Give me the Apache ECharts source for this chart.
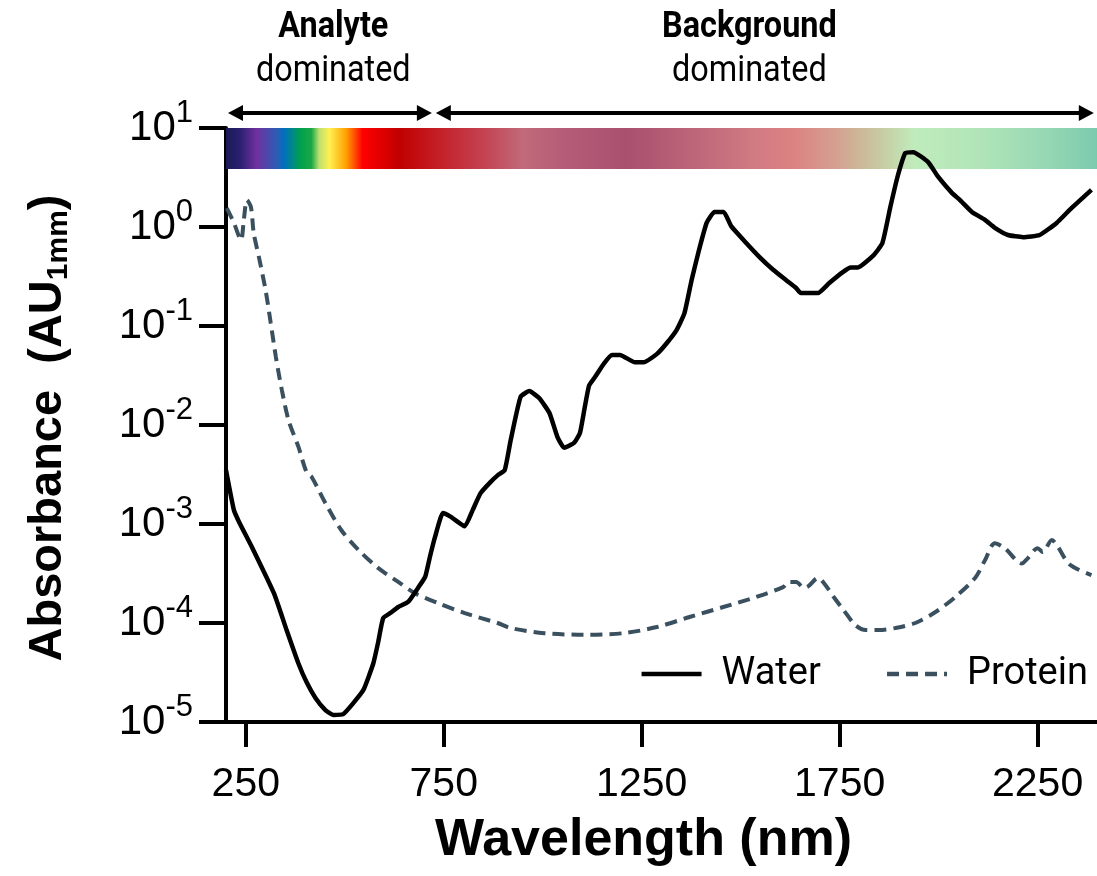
<!DOCTYPE html>
<html><head><meta charset="utf-8">
<script src="https://cdn.jsdelivr.net/npm/echarts@6/dist/echarts.min.js"></script>
<style>html,body{margin:0;padding:0;background:#fff}#c{width:1097px;height:876px}</style>
</head><body><div id="c"></div>
<script>
// ---- data ----
const waterWavelength = [200,220,233,265,321,353,383,404,426,451,471,496,522,547,572,584,597,615,635,660,685,703,715,728,748,768,803,823,843,868,886,904,919,944,966,991,1017,1037,1054,1079,1094,1105,1117,1132,1155,1175,1195,1233,1255,1288,1313,1338,1358,1376,1393,1414,1434,1457,1476,1514,1547,1582,1615,1640,1652,1695,1723,1758,1778,1796,1836,1858,1878,1896,1916,1936,1974,1999,2034,2054,2084,2117,2142,2175,2213,2255,2298,2331,2386];
const waterAbsorbance = [3.5e-3,1.38e-3,1.05e-3,5.9e-4,2.0e-4,8.5e-5,3.9e-5,2.5e-5,1.75e-5,1.32e-5,1.18e-5,1.2e-5,1.56e-5,2.1e-5,3.9e-5,6.3e-5,1.12e-4,1.26e-4,1.45e-4,1.63e-4,2.26e-4,2.92e-4,4.65e-4,7.4e-4,1.29e-3,1.18e-3,9.5e-4,1.38e-3,2.05e-3,2.65e-3,3.1e-3,3.5e-3,7.0e-3,1.92e-2,2.2e-2,1.87e-2,1.32e-2,7.6e-3,5.9e-3,6.6e-3,8.3e-3,1.42e-2,2.5e-2,3.05e-2,4.2e-2,5.1e-2,5.1e-2,4.3e-2,4.3e-2,5.2e-2,6.7e-2,9.1e-2,0.135,0.29,0.55,1.1,1.42,1.42,1.02,0.69,0.50,0.37,0.29,0.242,0.215,0.215,0.27,0.35,0.39,0.39,0.52,0.69,1.59,3.2,5.6,5.7,4.5,3.2,2.2,1.87,1.42,1.18,0.98,0.83,0.79,0.83,1.1,1.49,2.37];
const proteinWavelength = [202,220,238,245,253,263,270,283,300,313,326,341,358,383,404,416,451,491,534,584,635,677,735,803,886,919,1004,1105,1205,1288,1371,1456,1539,1607,1622,1640,1660,1672,1695,1710,1735,1760,1790,1816,1849,1891,1941,1992,2042,2092,2117,2142,2167,2210,2225,2250,2263,2286,2301,2331,2386];
const proteinAbsorbance = [1.55,1.1,0.74,1.18,1.87,1.59,0.87,0.50,0.23,0.107,0.0486,0.0226,0.0112,6.0e-3,3.3e-3,3.0e-3,1.63e-3,8.7e-4,5.5e-4,3.6e-4,2.6e-4,2.0e-4,1.59e-4,1.26e-4,1.0e-4,8.9e-5,7.9e-5,7.6e-5,7.9e-5,9.1e-5,1.15e-4,1.45e-4,1.83e-4,2.3e-4,2.6e-4,2.6e-4,2.26e-4,2.37e-4,2.85e-4,2.54e-4,1.83e-4,1.35e-4,9.5e-5,8.5e-5,8.5e-5,8.9e-5,1.0e-4,1.29e-4,1.83e-4,2.85e-4,4.3e-4,6.4e-4,5.7e-4,4.0e-4,4.5e-4,5.7e-4,5.2e-4,6.9e-4,5.9e-4,3.9e-4,3.05e-4];
const seriesNames = ['Water', 'Protein'];
const xTickValues = [250, 750, 1250, 1750, 2250];
const xRange = [200, 2400];
const yRange = [1e-5, 10];
const spectrumBand = [[200, 3.86], [2400, 10]];   // wavelength / absorbance corners of the colour band
const regionTitles = ['Analyte', 'Background'];
const regionSubtitles = ['dominated', 'dominated'];
const regionRanges = [[205, 720], [730, 2392]];
const regionLabelCenters = [471, 1522];

// ---- styles ----
const spectrumStops = [
  [0, '#1b1b58'], [0.016, '#2a2070'], [0.035, '#7030a0'], [0.058, '#2e5cb4'], [0.067, '#0070c0'],
  [0.085, '#00a050'], [0.098, '#1aa846'], [0.107, '#c0e070'], [0.119, '#fff050'], [0.138, '#ffa000'],
  [0.157, '#ff0000'], [0.199, '#c00000'], [0.245, '#c42028'], [0.293, '#c44050'], [0.341, '#c06a7a'],
  [0.389, '#b45c78'], [0.460, '#a8506e'], [0.532, '#bc6478'], [0.604, '#d07a82'], [0.652, '#dc8282'],
  [0.700, '#d4a090'], [0.748, '#c8c8a0'], [0.791, '#c0ecbc'], [0.868, '#b0e4b8'], [0.939, '#98d8b4'],
  [1, '#7ccaae']
];
const PROTEIN_COLOR = '#3a505e';
const AX = 'Liberation Sans, Arial, sans-serif';

const chart = echarts.init(document.getElementById('c'), null, {renderer: 'canvas'});

const zip = (xs, ys) => xs.map((x, i) => [x, ys[i]]);

chart.setOption({
  animation: false,
  backgroundColor: '#fff',
  grid: {left: 226, top: 128, bottom: 154, right: -4, containLabel: false},
  legend: {
    data: seriesNames,
    right: 4, top: 650, orient: 'horizontal',
    itemWidth: 60, itemHeight: 6, itemGap: 64,
    itemStyle: {opacity: 0},
    lineStyle: {width: 4.5},
    textStyle: {fontFamily: 'Roboto', fontSize: 38, color: '#000', padding: [0, 0, 0, 15]}
  },
  xAxis: {
    type: 'value', min: xRange[0], max: xRange[1],
    name: 'Wavelength (nm)', nameLocation: 'middle', nameGap: 93,
    nameTextStyle: {fontFamily: AX, fontWeight: 'bold', fontSize: 52, color: '#000', padding: [0, 36, 0, 0]},
    axisLine: {lineStyle: {color: '#000', width: 4}},
    axisTick: {length: 25, lineStyle: {color: '#000', width: 4}, customValues: xTickValues},
    axisLabel: {customValues: xTickValues, fontFamily: AX, fontSize: 41, color: '#000', margin: 42,
      formatter: v => String(v)},
    splitLine: {show: false}
  },
  yAxis: {
    type: 'log', logBase: 10, min: yRange[0], max: yRange[1],
    name: '{b|Absorbance  (AU}{s|1mm}{b|)}', nameLocation: 'middle', nameGap: 152, nameRotate: 90,
    nameTextStyle: {
      padding: [0, 6, 0, 0],
      rich: {
        b: {fontFamily: AX, fontWeight: 'bold', fontSize: 47, color: '#000'},
        s: {fontFamily: AX, fontWeight: 'bold', fontSize: 30, color: '#000', padding: [22, 0, 0, 0]}
      }
    },
    axisLine: {lineStyle: {color: '#000', width: 4}},
    axisTick: {length: 27, lineStyle: {color: '#000', width: 4}},
    axisLabel: {
      margin: 33, showMinLabel: true, showMaxLabel: true,
      formatter: v => '{b|10}{s|' + Math.round(Math.log10(v)) + '}',
      rich: {
        b: {fontFamily: AX, fontSize: 42, color: '#000'},
        s: {fontFamily: AX, fontSize: 31, color: '#000', padding: [0, 0, 30, 0]}
      }
    },
    splitLine: {show: false}, minorTick: {show: false}
  },
  series: [
    {
      name: 'spectrum', type: 'line', data: [], z: 1, silent: true,
      markArea: {
        silent: true,
        itemStyle: {
          color: {type: 'linear', x: 0, y: 0, x2: 1, y2: 0,
            colorStops: spectrumStops.map(s => ({offset: s[0], color: s[1]}))}
        },
        data: [[{coord: spectrumBand[0]}, {coord: spectrumBand[1]}]]
      }
    },
    {
      name: seriesNames[0], type: 'line', z: 5, symbol: 'none', smooth: 0.15,
      lineStyle: {color: '#000', width: 4.5}, itemStyle: {color: '#000'},
      data: zip(waterWavelength, waterAbsorbance)
    },
    {
      name: seriesNames[1], type: 'line', z: 4, symbol: 'none', smooth: 0.3,
      lineStyle: {color: PROTEIN_COLOR, width: 4, type: [12, 7]}, itemStyle: {color: PROTEIN_COLOR},
      data: zip(proteinWavelength, proteinAbsorbance)
    }
  ]
});

// ---- region annotations above the plot ----
function px(w) { return chart.convertToPixel({xAxisIndex: 0}, w); }
const ARROW_Y = 113, HEAD_L = 15, HEAD_H = 8;
const graphics = [];
regionRanges.forEach((r, i) => {
  const x1 = px(r[0]), x2 = px(r[1]);
  graphics.push({type: 'line', shape: {x1: x1 + HEAD_L - 2, y1: ARROW_Y, x2: x2 - HEAD_L + 2, y2: ARROW_Y},
    style: {stroke: '#000', lineWidth: 4}});
  graphics.push({type: 'polygon', shape: {points: [[x1, ARROW_Y], [x1 + HEAD_L, ARROW_Y - HEAD_H], [x1 + HEAD_L, ARROW_Y + HEAD_H]]},
    style: {fill: '#000'}});
  graphics.push({type: 'polygon', shape: {points: [[x2, ARROW_Y], [x2 - HEAD_L, ARROW_Y - HEAD_H], [x2 - HEAD_L, ARROW_Y + HEAD_H]]},
    style: {fill: '#000'}});
  const cx = px(regionLabelCenters[i]);
  graphics.push({type: 'text', x: cx, y: 28, scaleX: 0.9,
    style: {text: regionTitles[i], font: 'bold 36px Roboto', fill: '#000', align: 'center', verticalAlign: 'middle', textAlign: 'center', textVerticalAlign: 'middle'}});
  graphics.push({type: 'text', x: cx, y: 72, scaleX: 0.9,
    style: {text: regionSubtitles[i], font: '36px Roboto', fill: '#000', align: 'center', verticalAlign: 'middle', textAlign: 'center', textVerticalAlign: 'middle'}});
});
chart.setOption({graphic: {elements: graphics}});
</script>
</body></html>
